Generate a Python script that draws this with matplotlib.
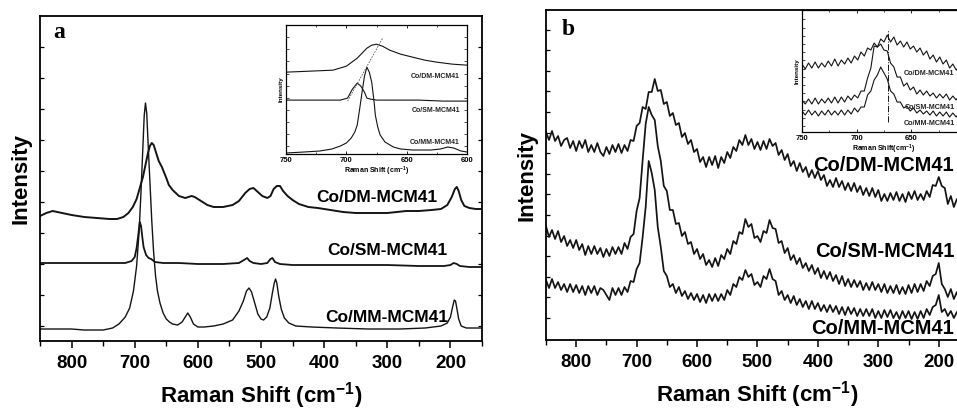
import matplotlib
matplotlib.use("Agg")
import matplotlib.pyplot as plt
from matplotlib.ticker import MultipleLocator, FixedLocator
import numpy as np

plt.rcParams["font.family"] = ["Liberation Sans", "DejaVu Sans"]
plt.rcParams["mathtext.fontset"] = "custom"
plt.rcParams["mathtext.rm"] = "Liberation Sans:bold"
plt.rcParams["mathtext.bf"] = "Liberation Sans:bold"
plt.rcParams["mathtext.default"] = "bf"

# ---------------- Panel a: main spectra (wavenumber, intensity a.u.) ----------------
a_dm_w = [850, 840, 830, 815, 800, 780, 760, 740, 728, 718, 710, 703, 697, 692, 687, 683, 679,
          676, 673, 670, 666, 662, 657, 650, 646, 640, 630, 620, 610, 605, 595, 585, 575, 560,
          545, 535, 525, 518, 512, 505, 498, 490, 485, 480, 475, 470, 465, 458, 450, 440, 425,
          410, 390, 370, 350, 330, 300, 270, 250, 230, 215, 205, 198, 193, 190, 187, 183, 178,
          170, 160, 150]
a_dm_i = [125, 128, 130, 128, 126, 124, 123, 122, 122, 124, 128, 134, 142, 153, 164, 176, 188,
          195, 198, 196, 188, 180, 174, 163, 156, 151, 145, 143, 145, 144, 140, 136, 134, 134,
          136, 140, 148, 152, 153, 149, 145, 143, 145, 152, 155, 155, 150, 145, 141, 137, 134,
          133, 131, 129, 128, 128, 128, 130, 130, 131, 132, 136, 144, 152, 154, 150, 141, 135,
          133, 132, 132]

a_sm_w = [850, 800, 750, 715, 705, 700, 697, 694, 692, 690, 688, 686, 682, 678, 674, 668, 655,
          630, 600, 560, 535, 527, 522, 518, 512, 500, 490, 485, 482, 478, 470, 450, 400, 350,
          300, 250, 210, 200, 195, 190, 185, 170, 150]
a_sm_i = [78, 78, 78, 78, 80, 84, 93, 108, 119, 115, 104, 94, 86, 83, 82, 79, 78,
          78, 77, 77, 78, 81, 83, 80, 78, 77, 78, 82, 83, 79, 77, 76, 76, 76,
          76, 75, 75, 76, 78, 77, 75, 74, 74]

a_mm_w = [850, 800, 780, 750, 735, 725, 715, 708, 702, 697, 693, 690, 687, 685, 683, 681, 679,
          676, 673, 670, 667, 664, 660, 655, 650, 645, 640, 632, 625, 619, 616, 612, 607, 600,
          590, 575, 560, 545, 535, 528, 523, 519, 515, 510, 505, 500, 496, 491, 486, 482, 479,
          477, 475, 472, 468, 463, 456, 445, 420, 380, 330, 280, 240, 215, 205, 200, 197, 194,
          192, 190, 187, 183, 175, 150]
a_mm_i = [12, 12, 11, 11, 13, 17, 24, 33, 50, 75, 110, 150, 195, 225, 238, 228, 200,
          160, 120, 88, 65, 50, 38, 28, 22, 19, 17, 16, 19, 25, 28, 24, 17, 14,
          14, 15, 17, 21, 30, 40, 50, 53, 49, 38, 27, 22, 21, 24, 33, 48, 58,
          62, 58, 45, 32, 23, 18, 15, 14, 13, 12, 12, 13, 15, 18, 24, 33, 41,
          40, 33, 22, 15, 13, 13]

# ---------------- Panel a inset: 750-600 cm-1 ----------------
ia_dm_w = [750, 730, 711, 700, 691, 683, 679, 675, 670, 664, 655, 645, 635, 625, 612, 600]
ia_dm_i = [82, 83, 84, 88, 96, 106, 109, 110, 108, 104, 100, 97, 94, 92, 90, 89]
ia_sm_w = [750, 720, 705, 699, 695, 691, 688, 685, 683, 680, 675, 660, 640, 620, 600]
ia_sm_i = [54, 54, 54, 56, 65, 71, 68, 62, 56, 55, 54, 54, 54, 53, 53]
ia_mm_w = [750, 735, 722, 712, 705, 700, 696, 693, 691, 689, 687, 685, 683, 681, 679, 677,
           676, 674, 672, 668, 661, 655, 645, 630, 622, 616, 611, 605, 600]
ia_mm_i = [1, 2, 3, 5, 8, 11, 16, 22, 29, 45, 62, 78, 87, 82, 72, 52,
           39, 27, 19, 12, 7, 5, 4, 4, 5, 7, 6, 3, 2]
ia_guide_w = [699, 670]
ia_guide_i = [53, 116]

# ---------------- Panel b: main spectra on a 5 cm-1 grid ----------------
b_w = list(range(850, 149, -5))
b_dm = [208, 200, 209, 199, 204, 194, 200, 202, 192, 199, 189, 199, 192, 200, 188, 195, 188, 197,
        188, 184, 193, 186, 195, 188, 196, 187, 195, 189, 200, 199, 214, 217, 233, 231, 248, 248,
        261, 249, 250, 236, 238, 224, 227, 215, 217, 203, 207, 196, 200, 188, 191, 178, 183, 173,
        183, 175, 184, 172, 183, 177, 188, 182, 193, 189, 200, 195, 205, 195, 201, 191, 198, 190,
        199, 191, 201, 194, 197, 185, 190, 180, 186, 174, 179, 169, 177, 168, 173, 163, 170, 162,
        169, 160, 165, 154, 160, 153, 162, 153, 159, 150, 157, 149, 157, 148, 154, 145, 152, 144,
        152, 143, 150, 139, 146, 139, 147, 140, 148, 139, 146, 138, 148, 141, 149, 140, 146, 140,
        149, 143, 155, 154, 163, 154, 152, 136, 144, 133, 141, 134, 140, 132, 139]
b_sm = [114, 103, 110, 101, 109, 98, 104, 94, 100, 92, 100, 90, 96, 85, 94, 86, 94, 86,
        92, 83, 91, 84, 93, 86, 93, 86, 97, 91, 103, 106, 129, 142, 180, 216, 233, 225,
        220, 194, 179, 154, 149, 130, 130, 116, 117, 104, 108, 96, 98, 86, 91, 81, 86, 75,
        80, 73, 82, 74, 85, 81, 91, 86, 99, 96, 108, 106, 121, 113, 116, 102, 104, 98,
        109, 107, 120, 112, 111, 97, 99, 87, 92, 80, 85, 76, 82, 72, 77, 69, 75, 66,
        72, 62, 69, 61, 68, 59, 65, 56, 64, 54, 61, 53, 60, 53, 59, 50, 57, 50,
        58, 50, 56, 48, 56, 47, 54, 47, 55, 46, 53, 46, 55, 47, 56, 48, 56, 49,
        59, 54, 64, 66, 77, 56, 51, 43, 51, 41, 48, 39, 46, 38, 43]
b_mm = [60, 52, 61, 52, 58, 50, 56, 48, 56, 48, 55, 47, 54, 45, 54, 47, 54, 45,
        52, 50, 45, 40, 52, 45, 52, 45, 53, 48, 59, 58, 71, 77, 103, 133, 179, 167,
        150, 113, 93, 69, 64, 53, 56, 47, 53, 44, 49, 41, 47, 40, 46, 38, 45, 37,
        46, 39, 46, 39, 46, 40, 50, 45, 56, 53, 63, 60, 70, 63, 66, 55, 58, 53,
        64, 61, 71, 61, 59, 45, 49, 40, 45, 37, 44, 35, 41, 33, 39, 31, 39, 31,
        37, 29, 35, 28, 35, 28, 34, 26, 33, 25, 33, 26, 32, 24, 31, 24, 31, 24,
        31, 22, 29, 22, 30, 23, 30, 22, 28, 21, 29, 22, 29, 21, 28, 21, 29, 22,
        31, 25, 33, 35, 45, 28, 31, 24, 29, 22, 28, 21, 27, 20, 25]

# ---------------- Panel b inset: 750-600 cm-1 on a 3 cm-1 grid ----------------
ib_w = list(range(750, 599, -3))
ib_dm = [68, 63, 69, 64, 70, 64, 69, 65, 71, 66, 73, 66, 72, 68, 74, 69, 76, 72, 80, 76,
         84, 82, 89, 85, 93, 90, 97, 90, 95, 87, 91, 85, 90, 83, 86, 80, 84, 77, 81, 73,
         77, 70, 75, 68, 72, 64, 68, 62, 66, 60, 65]
ib_sm = [32, 28, 33, 28, 34, 28, 33, 29, 34, 29, 35, 29, 35, 30, 36, 32, 37, 34, 41, 41,
         54, 64, 86, 85, 88, 82, 81, 69, 65, 55, 55, 46, 49, 42, 45, 38, 42, 37, 41, 36,
         39, 34, 38, 34, 38, 32, 36, 32, 37, 31, 35]
ib_mm = [21, 17, 22, 17, 21, 16, 21, 17, 22, 17, 21, 17, 22, 17, 22, 18, 24, 20, 25, 25,
         37, 41, 52, 57, 65, 59, 53, 41, 38, 30, 30, 24, 26, 21, 24, 19, 22, 18, 21, 17,
         21, 16, 20, 16, 20, 15, 19, 15, 19, 14, 18]
ib_marker_w = [671, 671]
ib_marker_i = [10, 102]

names = ["Co/DM-MCM41", "Co/SM-MCM41", "Co/MM-MCM41"]
ink = "#141414"
xlabel = r"Raman Shift (cm$^{-1}$)"

fig = plt.figure(figsize=(9.57, 4.11), dpi=100)


def style_main(ax, yticks):
    ax.set_xlim(850, 150)
    ax.xaxis.set_major_locator(MultipleLocator(100))
    ax.xaxis.set_minor_locator(MultipleLocator(50))
    ax.yaxis.set_major_locator(FixedLocator(yticks))
    ax.tick_params(axis="x", which="major", direction="out", length=5, width=1.1,
                   labelsize=13.5, pad=5)
    ax.tick_params(axis="x", which="minor", direction="out", length=3.5, width=1.0)
    ax.tick_params(axis="y", which="both", direction="in", length=3, width=0.9,
                   left=True, right=True, labelleft=False)
    for s in ax.spines.values():
        s.set_linewidth(1.3)
    for lab in ax.get_xticklabels():
        lab.set_fontweight("bold")
    ax.set_xlabel(xlabel, fontsize=16, fontweight="bold", labelpad=6)
    ax.set_ylabel("Intensity", fontsize=16, fontweight="bold", labelpad=6)


def style_inset(ax, yticks, xlab):
    ax.set_xlim(750, 600)
    ax.xaxis.set_major_locator(MultipleLocator(50))
    ax.xaxis.set_minor_locator(MultipleLocator(25))
    ax.yaxis.set_major_locator(FixedLocator(yticks))
    ax.tick_params(axis="x", which="major", direction="in", length=2.5, width=0.6,
                   labelsize=5.5, pad=2, top=True)
    ax.tick_params(axis="x", which="minor", direction="in", length=1.5, width=0.5, top=True)
    ax.tick_params(axis="y", which="both", direction="in", length=2, width=0.5,
                   left=True, right=True, labelleft=False)
    for s in ax.spines.values():
        s.set_linewidth(0.9)
    for lab in ax.get_xticklabels():
        lab.set_fontweight("bold")
    ax.set_xlabel(xlab, fontsize=5, fontweight="bold", labelpad=1)
    ax.set_ylabel("Intensity", fontsize=4.5, fontweight="bold", labelpad=1.5)


# ---------------- Panel a ----------------
ax_a = fig.add_axes([0.0418, 0.1703, 0.4619, 0.7908])
ax_a.plot(a_dm_w, a_dm_i, color=ink, lw=1.4)
ax_a.plot(a_sm_w, a_sm_i, color=ink, lw=1.3)
ax_a.plot(a_mm_w, a_mm_i, color=ink, lw=1.0)
ax_a.set_ylim(0, 325)
style_main(ax_a, list(range(15, 300, 31)))
ax_a.text(0.03, 0.948, "a", transform=ax_a.transAxes, fontsize=17, fontweight="bold",
          family="Liberation Serif", va="center", ha="left")
for lab, (x, y) in zip(names, [(0.762, 0.44), (0.785, 0.28), (0.785, 0.071)]):
    ax_a.text(x, y, lab, transform=ax_a.transAxes, fontsize=12.5, fontweight="bold",
              ha="center", va="center")

ins_a = fig.add_axes([0.2989, 0.6253, 0.1891, 0.3133])
ins_a.plot(ia_dm_w, ia_dm_i, color=ink, lw=0.8)
ins_a.plot(ia_sm_w, ia_sm_i, color=ink, lw=0.8)
ins_a.plot(ia_mm_w, ia_mm_i, color=ink, lw=0.8)
ins_a.plot(ia_guide_w, ia_guide_i, color="#555555", lw=0.6, ls=(0, (2, 1.5)))
ins_a.set_ylim(0, 129)
style_inset(ins_a, list(np.arange(8, 129, 12.1)), xlabel)
for lab, y in zip(names, [0.6, 0.34, 0.09]):
    ins_a.text(0.96, y, lab, transform=ins_a.transAxes, fontsize=5, fontweight="bold",
               ha="right", va="center", color="#222222")

# ---------------- Panel b ----------------
ax_b = fig.add_axes([0.5705, 0.1727, 0.442, 0.803])
ax_b.plot(b_w, b_dm, color=ink, lw=1.25)
ax_b.plot(b_w, b_sm, color=ink, lw=1.25)
ax_b.plot(b_w, b_mm, color=ink, lw=1.25)
ax_b.set_ylim(0, 330)
style_main(ax_b, list(np.arange(22, 320, 20.6)))
ax_b.text(0.037, 0.94, "b", transform=ax_b.transAxes, fontsize=17, fontweight="bold",
          family="Liberation Serif", va="center", ha="left")
for lab, y in zip(names, [0.53, 0.267, 0.036]):
    ax_b.text(0.965, y, lab, transform=ax_b.transAxes, fontsize=14.5, fontweight="bold",
              ha="right", va="center")

ins_b = fig.add_axes([0.838, 0.6788, 0.1714, 0.2968])
ins_b.plot(ib_w, ib_dm, color=ink, lw=0.8)
ins_b.plot(ib_w, ib_sm, color=ink, lw=0.8)
ins_b.plot(ib_w, ib_mm, color=ink, lw=0.8)
ins_b.plot(ib_marker_w, ib_marker_i, color=ink, lw=0.7, ls="-.")
ins_b.set_ylim(0, 122)
style_inset(ins_b, list(np.arange(6, 120, 8.2)), r"Raman Shift(cm$^{-1}$)")
for lab, y in zip(names, [0.48, 0.205, 0.07]):
    ins_b.text(0.93, y, lab, transform=ins_b.transAxes, fontsize=5.2, fontweight="bold",
               ha="right", va="center", color="#222222")

fig.savefig("out.png", dpi=100)
